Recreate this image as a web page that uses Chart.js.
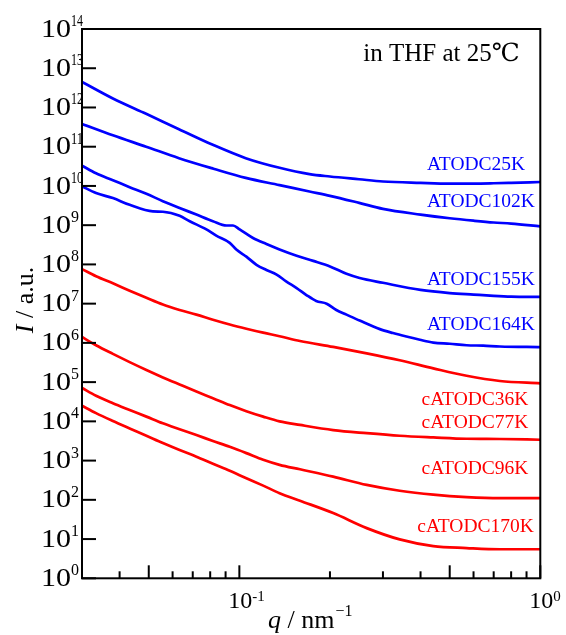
<!DOCTYPE html>
<html>
<head>
<meta charset="utf-8">
<script src="https://cdn.jsdelivr.net/npm/chart.js@4.4.1/dist/chart.umd.min.js"></script>
<style>
  html, body { margin: 0; padding: 0; background: #fff; }
  #wrap { width: 566px; height: 635px; }
</style>
</head>
<body>
<div id="wrap"><canvas id="myChart" width="566" height="635"></canvas></div>
<script>
// q in nm^-1, I in a.u.
var qBlueA = [0.03, 0.038, 0.049, 0.063, 0.082, 0.105, 0.136, 0.171, 0.2, 0.25, 0.3, 0.4, 0.5, 0.6, 0.7, 0.8, 1.0];
var I_25K  = [4.5e12, 1.7e12, 6.9e11, 2.8e11, 1.1e11, 5.1e10, 2.9e10, 2.0e10, 1.74e10, 1.48e10, 1.3e10, 1.2e10, 1.15e10, 1.15e10, 1.17e10, 1.2e10, 1.26e10];
var I_102K = [3.8e11, 1.95e11, 1.0e11, 5.1e10, 2.75e10, 1.6e10, 1.05e10, 7.2e9, 5.6e9, 3.7e9, 2.6e9, 1.86e9, 1.5e9, 1.3e9, 1.17e9, 1.1e9, 9.3e8];

var q155 = [0.03, 0.0334, 0.038, 0.0432, 0.0491, 0.0557, 0.0633, 0.072, 0.0817, 0.0906, 0.0953, 0.1002, 0.111, 0.123, 0.136, 0.155, 0.176, 0.2, 0.227, 0.251, 0.3, 0.4, 0.5, 0.6, 0.7, 0.8, 1.0];
var I_155K = [3.3e10, 2.1e10, 1.4e10, 9.3e9, 6.3e9, 4.1e9, 2.75e9, 1.86e9, 1.26e9, 9.8e8, 9.8e8, 7.8e8, 4.7e8, 3.3e8, 2.4e8, 1.66e8, 1.23e8, 8.9e7, 5.75e7, 4.5e7, 3.4e7, 2.24e7, 1.86e7, 1.7e7, 1.58e7, 1.51e7, 1.48e7];

var q164 = [0.03, 0.0334, 0.038, 0.0432, 0.0516, 0.0557, 0.0633, 0.0684, 0.0777, 0.0838, 0.0929, 0.0977, 0.1055, 0.114, 0.123, 0.133, 0.143, 0.155, 0.167, 0.18, 0.195, 0.21, 0.227, 0.251, 0.293, 0.324, 0.359, 0.398, 0.441, 0.5, 0.569, 0.646, 0.734, 1.0];
var I_164K = [9.8e9, 6.6e9, 4.9e9, 3.3e9, 2.24e9, 2.2e9, 1.74e9, 1.26e9, 7.8e8, 5.4e8, 3.55e8, 2.4e8, 1.58e8, 9.8e7, 7.2e7, 5.5e7, 3.7e7, 2.5e7, 1.66e7, 1.17e7, 1.0e7, 6.9e6, 5.25e6, 3.7e6, 2.24e6, 1.78e6, 1.45e6, 1.2e6, 1.02e6, 9.5e5, 8.7e5, 8.5e5, 8.1e5, 7.8e5];

var qRed = [0.03, 0.0334, 0.038, 0.0432, 0.0491, 0.0557, 0.0633, 0.072, 0.0817, 0.0929, 0.1055, 0.12, 0.136, 0.159, 0.205, 0.265, 0.341, 0.441, 0.569, 0.734, 1.0];
var I_c36K  = [7.6e7, 5.0e7, 3.3e7, 2.14e7, 1.41e7, 9.5e6, 6.9e6, 5.25e6, 3.9e6, 2.95e6, 2.3e6, 1.82e6, 1.48e6, 1.12e6, 7.9e5, 5.4e5, 3.6e5, 2.24e5, 1.45e5, 1.07e5, 9.3e4];
var I_c77K  = [1.41e6, 8.7e5, 5.25e5, 3.24e5, 2.04e5, 1.32e5, 8.7e4, 5.75e4, 3.9e4, 2.6e4, 1.82e4, 1.32e4, 1.0e4, 8.1e3, 6.0e3, 5.0e3, 4.3e3, 3.9e3, 3.6e3, 3.55e3, 3.4e3];
var I_c96K  = [7.1e4, 4.5e4, 2.9e4, 1.95e4, 1.32e4, 8.9e3, 6.3e3, 4.47e3, 3.16e3, 2.24e3, 1.55e3, 1.05e3, 780, 600, 390, 240, 170, 135, 117, 110, 110];
var I_c170K = [2.5e4, 1.62e4, 1.02e4, 6.6e3, 4.3e3, 2.8e3, 1.86e3, 1.26e3, 830, 550, 355, 230, 148, 95, 46, 19, 9.8, 6.6, 5.9, 5.5, 5.5];

var names = ["ATODC25K", "ATODC102K", "ATODC155K", "ATODC164K", "cATODC36K", "cATODC77K", "cATODC96K", "cATODC170K"];
// where each name sits (q of its left edge, I of its middle)
var nameQ = [0.42, 0.42, 0.42, 0.42, 0.403, 0.403, 0.403, 0.39];
var nameI = [3.4e10, 4.0e9, 4.0e7, 2.8e6, 3.5e4, 9.1e3, 6.2e2, 20];

var yTickExp = [0, 1, 2, 3, 4, 5, 6, 7, 8, 9, 10, 11, 12, 13, 14];
var xTickExp = [-1, 0];

var BLUE = "rgb(0,0,255)";
var RED = "rgb(255,0,0)";
var SERIF = '"Liberation Serif", "DejaVu Serif", "Times New Roman", serif';

function pts(qs, is) {
  return qs.map(function (q, k) { return { x: q, y: is[k] }; });
}

function line(name, qs, is, color) {
  return {
    label: name,
    data: pts(qs, is),
    borderColor: color,
    borderWidth: 2.7,
    pointRadius: 0,
    cubicInterpolationMode: "monotone",
    fill: false
  };
}

var datasets = [
  line(names[0], qBlueA, I_25K, BLUE),
  line(names[1], qBlueA, I_102K, BLUE),
  line(names[2], q155, I_155K, BLUE),
  line(names[3], q164, I_164K, BLUE),
  line(names[4], qRed, I_c36K, RED),
  line(names[5], qRed, I_c77K, RED),
  line(names[6], qRed, I_c96K, RED),
  line(names[7], qRed, I_c170K, RED)
];

var deco = {
  id: "deco",
  afterDraw: function (chart) {
    var ctx = chart.ctx;
    var xs = chart.scales.x, ys = chart.scales.y;
    var a = chart.chartArea;
    ctx.save();
    ctx.strokeStyle = "#000";
    ctx.fillStyle = "#000";

    // frame
    ctx.lineWidth = 2;
    ctx.strokeRect(a.left, a.top, a.right - a.left, a.bottom - a.top);

    // y ticks (inward) and labels
    yTickExp.forEach(function (p) {
      var y = ys.getPixelForValue(Math.pow(10, p));
      ctx.beginPath();
      ctx.moveTo(a.left, y);
      ctx.lineTo(a.left + 14, y);
      ctx.stroke();

      ctx.save();
      ctx.translate(a.left - 11, y);
      ctx.scale(1.2, 1);
      ctx.font = "25px " + SERIF;
      ctx.textAlign = "right";
      ctx.textBaseline = "middle";
      ctx.fillText("10", 0, 1);
      ctx.restore();

      ctx.font = "16px " + SERIF;
      ctx.textAlign = "left";
      ctx.textBaseline = "alphabetic";
      ctx.fillText(String(p), a.left - 11, y - 3, 12);
    });

    // x ticks (inward): long at 1 and 5, short otherwise
    for (var d = -2; d <= 0; d++) {
      for (var m = 1; m <= 9; m++) {
        var v = m * Math.pow(10, d);
        if (v < xs.min - 1e-9 || v > xs.max + 1e-9) continue;
        var x = xs.getPixelForValue(v);
        var len = (m === 1 || m === 5) ? 13 : 7;
        ctx.beginPath();
        ctx.moveTo(x, a.bottom);
        ctx.lineTo(x, a.bottom - len);
        ctx.stroke();
      }
    }

    xTickExp.forEach(function (p) {
      var x = xs.getPixelForValue(Math.pow(10, p));
      ctx.font = "24px " + SERIF;
      ctx.textAlign = "center";
      ctx.textBaseline = "alphabetic";
      ctx.fillText("10", x + 1, a.bottom + 30);
      ctx.font = "15px " + SERIF;
      ctx.textAlign = "left";
      ctx.fillText(p < 0 ? "-" + (-p) : String(p), x + 13, a.bottom + 23);
    });

    // axis titles
    ctx.textAlign = "left";
    ctx.textBaseline = "alphabetic";
    var tx = 268, ty = a.bottom + 50;
    ctx.font = "italic 26px " + SERIF;
    ctx.fillText("q", tx, ty);
    tx += ctx.measureText("q").width;
    ctx.font = "26px " + SERIF;
    ctx.fillText(" / nm", tx, ty);
    tx += ctx.measureText(" / nm").width;
    ctx.font = "16px " + SERIF;
    ctx.fillText("\u22121", tx + 1, ty - 12);

    ctx.save();
    ctx.translate(33, 300);
    ctx.rotate(-Math.PI / 2);
    var w1, w2;
    ctx.font = "italic 26px " + SERIF;
    w1 = ctx.measureText("I").width;
    ctx.font = "26px " + SERIF;
    w2 = ctx.measureText(" / a.u.").width;
    var sx = -(w1 + w2) / 2;
    ctx.font = "italic 26px " + SERIF;
    ctx.fillText("I", sx, 0);
    ctx.font = "26px " + SERIF;
    ctx.fillText(" / a.u.", sx + w1, 0);
    ctx.restore();

    // caption
    ctx.font = "25px " + SERIF;
    ctx.fillText("in THF at 25\u2103", a.right - 177, a.top + 32);

    // series names
    ctx.font = "19.5px " + SERIF;
    ctx.textBaseline = "middle";
    names.forEach(function (n, k) {
      ctx.fillStyle = k < 4 ? BLUE : RED;
      ctx.fillText(n, xs.getPixelForValue(nameQ[k]), ys.getPixelForValue(nameI[k]));
    });

    ctx.restore();
  }
};

var myChart = new Chart(document.getElementById("myChart"), {
  type: "line",
  data: { datasets: datasets },
  options: {
    responsive: false,
    animation: false,
    devicePixelRatio: 1,
    layout: { padding: { left: 82, right: 25.7, top: 29, bottom: 56.7 } },
    plugins: { legend: { display: false }, tooltip: { enabled: false } },
    scales: {
      x: { type: "logarithmic", min: 0.03, max: 1, display: false },
      y: { type: "logarithmic", min: 1, max: 1e14, display: false }
    }
  },
  plugins: [deco]
});
</script>
</body>
</html>
